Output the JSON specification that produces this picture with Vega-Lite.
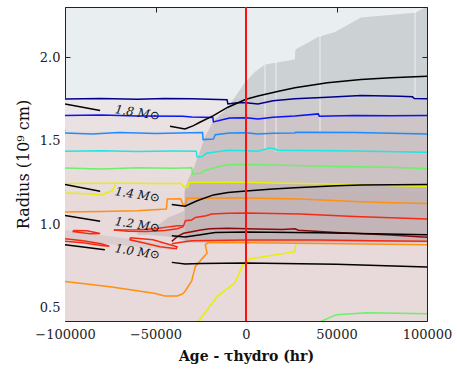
{
"$schema":"https://vega.github.io/schema/vega-lite/v6.json",
"width":362,"height":314,"autosize":"none",
"padding":{"left":65,"top":7,"right":30,"bottom":53},
"config":{"font":"DejaVu Serif","view":{"stroke":"#222","strokeWidth":1,"fill":"#e9eef1"}},
"resolve":{"axis":{"x":"independent","y":"independent"}},
"datasets":{
"bands":[
{"b":"b1","x":-100000,"top":1.752,"bot":1.66},{"b":"b1","x":100000,"top":1.752,"bot":1.66},
{"b":"b2","x":-100000,"top":1.66,"bot":1.56},{"b":"b2","x":100000,"top":1.66,"bot":1.56},
{"b":"b3","x":-100000,"top":1.56,"bot":1.2},{"b":"b3","x":100000,"top":1.56,"bot":1.2},
{"b":"b4","x":-100000,"top":1.2,"bot":0.4},{"b":"b4","x":100000,"top":1.2,"bot":0.4}
],
"areas":[
{"a":"g1","x":-34000,"top":1.2,"bot":0.89},{"a":"g1","x":-32000,"top":1.266,"bot":0.89},{"a":"g1","x":-29300,"top":1.326,"bot":0.89},{"a":"g1","x":-26500,"top":1.404,"bot":0.89},{"a":"g1","x":-22600,"top":1.524,"bot":0.89},{"a":"g1","x":-18200,"top":1.614,"bot":0.89},{"a":"g1","x":-9900,"top":1.7,"bot":0.89},{"a":"g1","x":-550,"top":1.85,"bot":0.89},{"a":"g1","x":5000,"top":1.913,"bot":0.89},{"a":"g1","x":10500,"top":1.955,"bot":0.89},{"a":"g1","x":27000,"top":1.985,"bot":0.89},{"a":"g1","x":27300,"top":2.045,"bot":0.89},{"a":"g1","x":39800,"top":2.12,"bot":0.89},{"a":"g1","x":49200,"top":2.15,"bot":0.89},{"a":"g1","x":63500,"top":2.237,"bot":0.89},{"a":"g1","x":93400,"top":2.266,"bot":0.89},{"a":"g1","x":98900,"top":2.296,"bot":0.89},{"a":"g1","x":100000,"top":2.3,"bot":0.89},
{"a":"g2","x":-33700,"top":1.2,"bot":0.89},{"a":"g2","x":-31500,"top":1.25,"bot":0.89},{"a":"g2","x":0,"top":1.25,"bot":0.89},{"a":"g2","x":50000,"top":1.24,"bot":0.89},{"a":"g2","x":100000,"top":1.226,"bot":0.89},
{"a":"g3","x":-60000,"top":0.96,"bot":0.935},{"a":"g3","x":-53000,"top":0.985,"bot":0.935},{"a":"g3","x":-48000,"top":1.0,"bot":0.93},{"a":"g3","x":-43000,"top":1.04,"bot":0.925},{"a":"g3","x":-38000,"top":1.06,"bot":0.915},{"a":"g3","x":-34000,"top":1.08,"bot":0.9},
{"a":"g4","x":-100000,"top":0.965,"bot":0.905},{"a":"g4","x":-40000,"top":0.875,"bot":0.845}
],
"whites":[{"x":10500,"y":1.446,"y2":1.955},{"x":16600,"y":1.434,"y2":1.97},{"x":40900,"y":1.554,"y2":2.135},{"x":93400,"y":1.757,"y2":2.284}],
"lines":[
{"s":"navy","g":"n1","x":-100000,"y":1.749},{"s":"navy","g":"n1","x":-80000,"y":1.752},{"s":"navy","g":"n1","x":-60000,"y":1.747},{"s":"navy","g":"n1","x":-45000,"y":1.752},{"s":"navy","g":"n1","x":-30000,"y":1.75},{"s":"navy","g":"n1","x":-10500,"y":1.745},{"s":"navy","g":"n1","x":-10000,"y":1.72},{"s":"navy","g":"n1","x":-5000,"y":1.726},{"s":"navy","g":"n1","x":0,"y":1.727},{"s":"navy","g":"n1","x":6600,"y":1.72},{"s":"navy","g":"n1","x":15000,"y":1.738},{"s":"navy","g":"n1","x":27000,"y":1.75},{"s":"navy","g":"n1","x":45000,"y":1.76},{"s":"navy","g":"n1","x":63500,"y":1.77},{"s":"navy","g":"n1","x":85000,"y":1.765},{"s":"navy","g":"n1","x":92000,"y":1.762},{"s":"navy","g":"n1","x":93000,"y":1.752},{"s":"navy","g":"n1","x":100000,"y":1.75},
{"s":"blue","g":"b1","x":-100000,"y":1.65},{"s":"blue","g":"b1","x":-80000,"y":1.653},{"s":"blue","g":"b1","x":-60000,"y":1.648},{"s":"blue","g":"b1","x":-35000,"y":1.646},{"s":"blue","g":"b1","x":-30000,"y":1.641},{"s":"blue","g":"b1","x":-18300,"y":1.638},{"s":"blue","g":"b1","x":-18000,"y":1.612},{"s":"blue","g":"b1","x":-12000,"y":1.628},{"s":"blue","g":"b1","x":-9000,"y":1.636},{"s":"blue","g":"b1","x":0,"y":1.637},{"s":"blue","g":"b1","x":6600,"y":1.63},{"s":"blue","g":"b1","x":15000,"y":1.64},{"s":"blue","g":"b1","x":27000,"y":1.648},{"s":"blue","g":"b1","x":40000,"y":1.66},{"s":"blue","g":"b1","x":40500,"y":1.646},{"s":"blue","g":"b1","x":60000,"y":1.65},{"s":"blue","g":"b1","x":80000,"y":1.649},{"s":"blue","g":"b1","x":100000,"y":1.65},
{"s":"dodger","g":"d1","x":-100000,"y":1.546},{"s":"dodger","g":"d1","x":-85000,"y":1.54},{"s":"dodger","g":"d1","x":-70000,"y":1.548},{"s":"dodger","g":"d1","x":-50000,"y":1.543},{"s":"dodger","g":"d1","x":-24000,"y":1.548},{"s":"dodger","g":"d1","x":-23700,"y":1.506},{"s":"dodger","g":"d1","x":-18000,"y":1.51},{"s":"dodger","g":"d1","x":-17000,"y":1.535},{"s":"dodger","g":"d1","x":-9000,"y":1.545},{"s":"dodger","g":"d1","x":0,"y":1.547},{"s":"dodger","g":"d1","x":6600,"y":1.54},{"s":"dodger","g":"d1","x":15000,"y":1.544},{"s":"dodger","g":"d1","x":27000,"y":1.545},{"s":"dodger","g":"d1","x":27300,"y":1.55},{"s":"dodger","g":"d1","x":60000,"y":1.548},{"s":"dodger","g":"d1","x":100000,"y":1.54},
{"s":"cyan","g":"c1","x":-100000,"y":1.436},{"s":"cyan","g":"c1","x":-80000,"y":1.44},{"s":"cyan","g":"c1","x":-60000,"y":1.435},{"s":"cyan","g":"c1","x":-40000,"y":1.438},{"s":"cyan","g":"c1","x":-27500,"y":1.437},{"s":"cyan","g":"c1","x":-27000,"y":1.402},{"s":"cyan","g":"c1","x":-24000,"y":1.405},{"s":"cyan","g":"c1","x":-22000,"y":1.425},{"s":"cyan","g":"c1","x":-10000,"y":1.442},{"s":"cyan","g":"c1","x":0,"y":1.44},{"s":"cyan","g":"c1","x":6600,"y":1.436},{"s":"cyan","g":"c1","x":13000,"y":1.456},{"s":"cyan","g":"c1","x":16500,"y":1.45},{"s":"cyan","g":"c1","x":17000,"y":1.442},{"s":"cyan","g":"c1","x":50000,"y":1.44},{"s":"cyan","g":"c1","x":100000,"y":1.43},
{"s":"green","g":"gr1","x":-100000,"y":1.336},{"s":"green","g":"gr1","x":-80000,"y":1.33},{"s":"green","g":"gr1","x":-60000,"y":1.338},{"s":"green","g":"gr1","x":-40000,"y":1.335},{"s":"green","g":"gr1","x":-30000,"y":1.338},{"s":"green","g":"gr1","x":-29500,"y":1.3},{"s":"green","g":"gr1","x":-25000,"y":1.305},{"s":"green","g":"gr1","x":-23000,"y":1.32},{"s":"green","g":"gr1","x":-15000,"y":1.345},{"s":"green","g":"gr1","x":-10000,"y":1.355},{"s":"green","g":"gr1","x":0,"y":1.357},{"s":"green","g":"gr1","x":20000,"y":1.353},{"s":"green","g":"gr1","x":50000,"y":1.345},{"s":"green","g":"gr1","x":80000,"y":1.34},{"s":"green","g":"gr1","x":100000,"y":1.332},
{"s":"green","g":"gr2","x":37600,"y":0.4},{"s":"green","g":"gr2","x":50000,"y":0.458},{"s":"green","g":"gr2","x":67000,"y":0.47},{"s":"green","g":"gr2","x":100000,"y":0.464},
{"s":"yellow","g":"y1","x":-100000,"y":1.243},{"s":"yellow","g":"y1","x":-70000,"y":1.245},{"s":"yellow","g":"y1","x":-50000,"y":1.243},{"s":"yellow","g":"y1","x":-36000,"y":1.243},{"s":"yellow","g":"y1","x":-34000,"y":1.22},{"s":"yellow","g":"y1","x":-32000,"y":1.222},{"s":"yellow","g":"y1","x":-31500,"y":1.25},{"s":"yellow","g":"y1","x":-10000,"y":1.252},{"s":"yellow","g":"y1","x":0,"y":1.25},{"s":"yellow","g":"y1","x":20000,"y":1.245},{"s":"yellow","g":"y1","x":50000,"y":1.24},{"s":"yellow","g":"y1","x":100000,"y":1.226},
{"s":"yellow","g":"y2","x":-100000,"y":1.187},{"s":"yellow","g":"y2","x":-85000,"y":1.18},{"s":"yellow","g":"y2","x":-80000,"y":1.173},{"s":"yellow","g":"y2","x":-74000,"y":1.2},{"s":"yellow","g":"y2","x":-72000,"y":1.238},
{"s":"yellow","g":"y3","x":-27500,"y":0.4},{"s":"yellow","g":"y3","x":-16000,"y":0.566},{"s":"yellow","g":"y3","x":-6000,"y":0.65},{"s":"yellow","g":"y3","x":-1700,"y":0.757},{"s":"yellow","g":"y3","x":2200,"y":0.793},{"s":"yellow","g":"y3","x":13300,"y":0.811},{"s":"yellow","g":"y3","x":27000,"y":0.835},{"s":"yellow","g":"y3","x":27600,"y":0.889},
{"s":"orange","g":"o1","x":-100000,"y":1.073},{"s":"orange","g":"o1","x":-80000,"y":1.076},{"s":"orange","g":"o1","x":-60000,"y":1.08},{"s":"orange","g":"o1","x":-44000,"y":1.091},{"s":"orange","g":"o1","x":-43500,"y":1.15},{"s":"orange","g":"o1","x":-36000,"y":1.152},{"s":"orange","g":"o1","x":-35000,"y":1.12},{"s":"orange","g":"o1","x":-33500,"y":1.118},{"s":"orange","g":"o1","x":-32500,"y":1.155},{"s":"orange","g":"o1","x":-10000,"y":1.157},{"s":"orange","g":"o1","x":0,"y":1.157},{"s":"orange","g":"o1","x":30000,"y":1.15},{"s":"orange","g":"o1","x":60000,"y":1.135},{"s":"orange","g":"o1","x":80000,"y":1.128},{"s":"orange","g":"o1","x":100000,"y":1.123},
{"s":"orange","g":"o2","x":-100000,"y":0.657},{"s":"orange","g":"o2","x":-75000,"y":0.625},{"s":"orange","g":"o2","x":-50000,"y":0.585},{"s":"orange","g":"o2","x":-45000,"y":0.57},{"s":"orange","g":"o2","x":-38000,"y":0.57},{"s":"orange","g":"o2","x":-35000,"y":0.582},{"s":"orange","g":"o2","x":-33700,"y":0.598},{"s":"orange","g":"o2","x":-30000,"y":0.66},{"s":"orange","g":"o2","x":-28000,"y":0.747},{"s":"orange","g":"o2","x":-21500,"y":0.827},{"s":"orange","g":"o2","x":-22500,"y":0.877},{"s":"orange","g":"o2","x":-21000,"y":0.888},{"s":"orange","g":"o2","x":0,"y":0.889},{"s":"orange","g":"o2","x":40000,"y":0.884},{"s":"orange","g":"o2","x":80000,"y":0.879},{"s":"orange","g":"o2","x":100000,"y":0.876},
{"s":"red","g":"r1","x":-73000,"y":0.965},{"s":"red","g":"r1","x":-60000,"y":0.967},{"s":"red","g":"r1","x":-50000,"y":0.972},{"s":"red","g":"r1","x":-42000,"y":0.985},{"s":"red","g":"r1","x":-38000,"y":0.99},{"s":"red","g":"r1","x":-34500,"y":0.99},{"s":"red","g":"r1","x":-33500,"y":1.02},{"s":"red","g":"r1","x":-30000,"y":1.025},{"s":"red","g":"r1","x":-28000,"y":1.04},{"s":"red","g":"r1","x":-22000,"y":1.05},{"s":"red","g":"r1","x":-19000,"y":1.06},{"s":"red","g":"r1","x":-10000,"y":1.065},{"s":"red","g":"r1","x":0,"y":1.067},{"s":"red","g":"r1","x":30000,"y":1.06},{"s":"red","g":"r1","x":60000,"y":1.045},{"s":"red","g":"r1","x":80000,"y":1.038},{"s":"red","g":"r1","x":100000,"y":1.03},
{"s":"red","g":"r2","x":-73000,"y":0.965},{"s":"red","g":"r2","x":-65000,"y":0.958},{"s":"red","g":"r2","x":-55000,"y":0.956},{"s":"red","g":"r2","x":-45000,"y":0.962},{"s":"red","g":"r2","x":-38000,"y":0.972},{"s":"red","g":"r2","x":-34500,"y":0.985},
{"s":"red","g":"r3","x":-95500,"y":0.962},{"s":"red","g":"r3","x":-88000,"y":0.96},{"s":"red","g":"r3","x":-80600,"y":0.944},{"s":"red","g":"r3","x":-86000,"y":0.942},{"s":"red","g":"r3","x":-95500,"y":0.955},{"s":"red","g":"r3","x":-95500,"y":0.962},
{"s":"red","g":"r4","x":-100000,"y":0.912},{"s":"red","g":"r4","x":-90000,"y":0.9},{"s":"red","g":"r4","x":-80000,"y":0.882},{"s":"red","g":"r4","x":-75500,"y":0.868},{"s":"red","g":"r4","x":-80000,"y":0.872},{"s":"red","g":"r4","x":-90000,"y":0.888},{"s":"red","g":"r4","x":-100000,"y":0.897},
{"s":"red","g":"r5","x":-64000,"y":0.919},{"s":"red","g":"r5","x":-51400,"y":0.907},{"s":"red","g":"r5","x":-38100,"y":0.865},{"s":"red","g":"r5","x":-38500,"y":0.853},{"s":"red","g":"r5","x":-47500,"y":0.865},{"s":"red","g":"r5","x":-58000,"y":0.892},{"s":"red","g":"r5","x":-64000,"y":0.906},{"s":"red","g":"r5","x":-64000,"y":0.919},
{"s":"red","g":"r6","x":-41000,"y":0.882},{"s":"red","g":"r6","x":-35000,"y":0.893},{"s":"red","g":"r6","x":-30000,"y":0.9},{"s":"red","g":"r6","x":0,"y":0.905},{"s":"red","g":"r6","x":40000,"y":0.905},{"s":"red","g":"r6","x":70000,"y":0.9},{"s":"red","g":"r6","x":100000,"y":0.897},
{"s":"darkred","g":"dr","x":-41000,"y":0.897},{"s":"darkred","g":"dr","x":-38000,"y":0.925},{"s":"darkred","g":"dr","x":-34500,"y":0.945},{"s":"darkred","g":"dr","x":-30000,"y":0.955},{"s":"darkred","g":"dr","x":-25000,"y":0.965},{"s":"darkred","g":"dr","x":-20000,"y":0.972},{"s":"darkred","g":"dr","x":-10000,"y":0.975},{"s":"darkred","g":"dr","x":0,"y":0.972},{"s":"darkred","g":"dr","x":20000,"y":0.968},{"s":"darkred","g":"dr","x":27000,"y":0.972},{"s":"darkred","g":"dr","x":29000,"y":0.963},{"s":"darkred","g":"dr","x":50000,"y":0.95},{"s":"darkred","g":"dr","x":80000,"y":0.935},{"s":"darkred","g":"dr","x":100000,"y":0.922},
{"s":"black","g":"k1a","x":-100000,"y":1.72},{"s":"black","g":"k1a","x":-80600,"y":1.68},
{"s":"black","g":"k1b","x":-42000,"y":1.586},{"s":"black","g":"k1b","x":-33700,"y":1.57},{"s":"black","g":"k1b","x":-29000,"y":1.59},{"s":"black","g":"k1b","x":-25500,"y":1.61},{"s":"black","g":"k1b","x":-18000,"y":1.65},{"s":"black","g":"k1b","x":-10000,"y":1.7},{"s":"black","g":"k1b","x":0,"y":1.748},{"s":"black","g":"k1b","x":6600,"y":1.767},{"s":"black","g":"k1b","x":18000,"y":1.795},{"s":"black","g":"k1b","x":27000,"y":1.816},{"s":"black","g":"k1b","x":45000,"y":1.846},{"s":"black","g":"k1b","x":63500,"y":1.866},{"s":"black","g":"k1b","x":80000,"y":1.877},{"s":"black","g":"k1b","x":100000,"y":1.885},
{"s":"black","g":"k2a","x":-100000,"y":1.237},{"s":"black","g":"k2a","x":-80600,"y":1.197},
{"s":"black","g":"k2b","x":-41000,"y":1.117},{"s":"black","g":"k2b","x":-33700,"y":1.107},{"s":"black","g":"k2b","x":-27000,"y":1.14},{"s":"black","g":"k2b","x":-18000,"y":1.175},{"s":"black","g":"k2b","x":-10000,"y":1.19},{"s":"black","g":"k2b","x":0,"y":1.198},{"s":"black","g":"k2b","x":15000,"y":1.21},{"s":"black","g":"k2b","x":27000,"y":1.218},{"s":"black","g":"k2b","x":50000,"y":1.23},{"s":"black","g":"k2b","x":63500,"y":1.235},{"s":"black","g":"k2b","x":100000,"y":1.238},
{"s":"black","g":"k3a","x":-100000,"y":1.051},{"s":"black","g":"k3a","x":-80600,"y":1.017},
{"s":"black","g":"k3b","x":-41000,"y":0.931},{"s":"black","g":"k3b","x":-33700,"y":0.923},{"s":"black","g":"k3b","x":-26000,"y":0.935},{"s":"black","g":"k3b","x":-17000,"y":0.95},{"s":"black","g":"k3b","x":0,"y":0.953},{"s":"black","g":"k3b","x":40000,"y":0.948},{"s":"black","g":"k3b","x":70000,"y":0.943},{"s":"black","g":"k3b","x":100000,"y":0.937},
{"s":"black","g":"k4a","x":-100000,"y":0.877},{"s":"black","g":"k4a","x":-78000,"y":0.847},
{"s":"black","g":"k4b","x":-41000,"y":0.771},{"s":"black","g":"k4b","x":-33700,"y":0.762},{"s":"black","g":"k4b","x":-25000,"y":0.765},{"s":"black","g":"k4b","x":0,"y":0.768},{"s":"black","g":"k4b","x":50000,"y":0.76},{"s":"black","g":"k4b","x":100000,"y":0.744}
],
"labels":[{"x":-60000,"y":1.668,"t":"1.8 M⊙"},{"x":-60000,"y":1.177,"t":"1.4 M⊙"},{"x":-60000,"y":0.997,"t":"1.2 M⊙"},{"x":-60000,"y":0.835,"t":"1.0 M⊙"}],
"vline":[{"x":0}]
},
"layer":[
{"data":{"name":"bands"},"mark":{"type":"area","clip":true},
"encoding":{
"x":{"field":"x","type":"quantitative","scale":{"domain":[-100000,100000],"nice":false},
"axis":{"orient":"bottom","values":[-100000,-50000,0,50000,100000],"format":"d","title":"Age - τhydro (hr)","titleFontWeight":"bold","titleFontSize":14,"titleColor":"#111","titlePadding":8,"labelFontSize":13,"labelColor":"#222","labelFont":"DejaVu Serif","titleFont":"DejaVu Serif","tickSize":-5,"tickColor":"#222","labelPadding":12,"domain":false,"grid":false,"labelFlush":false}},
"y":{"field":"top","type":"quantitative","stack":null,"scale":{"domain":[0.42,2.3],"nice":false,"zero":false},
"axis":{"orient":"left","values":[0.5,1.0,1.5,2.0],"format":".1f","title":"Radius (10⁹ cm)","titleFontWeight":"normal","titleFontSize":16,"titleColor":"#111","titlePadding":8,"labelFontSize":13,"labelColor":"#222","labelFont":"DejaVu Serif","titleFont":"DejaVu Serif","tickSize":-5,"tickColor":"#222","labelPadding":10,"domain":false,"grid":false}},
"y2":{"field":"bot"},
"fill":{"field":"b","type":"nominal","scale":{"domain":["b1","b2","b3","b4"],"range":["#ebe7e9","#eae1e2","#e9dcdd","#e8d9da"]},"legend":null}}},
{"data":{"name":"areas"},"transform":[{"filter":"datum.a==='g1'"}],"mark":{"type":"area","color":"#10121a","opacity":0.13,"clip":true},
"encoding":{
"x":{"field":"x","type":"quantitative","scale":{"domain":[-100000,100000],"nice":false},"axis":{"orient":"top","values":[-100000,-50000,0,50000,100000],"labels":false,"title":null,"tickSize":-5,"tickColor":"#222","domain":false,"grid":false}},
"y":{"field":"top","type":"quantitative","stack":null,"scale":{"domain":[0.42,2.3],"nice":false,"zero":false},"axis":{"orient":"right","values":[0.5,1.0,1.5,2.0],"labels":false,"title":null,"tickSize":-5,"tickColor":"#222","domain":false,"grid":false}},
"y2":{"field":"bot"}}},
{"data":{"name":"areas"},"transform":[{"filter":"datum.a==='g2'"}],"mark":{"type":"area","color":"#301830","opacity":0.06,"clip":true},
"encoding":{"x":{"field":"x","type":"quantitative","scale":{"domain":[-100000,100000],"nice":false},"axis":null},
"y":{"field":"top","type":"quantitative","stack":null,"scale":{"domain":[0.42,2.3],"nice":false,"zero":false},"axis":null},"y2":{"field":"bot"}}},
{"data":{"name":"areas"},"transform":[{"filter":"datum.a==='g3'"}],"mark":{"type":"area","color":"#101018","opacity":0.1,"clip":true},
"encoding":{"x":{"field":"x","type":"quantitative","scale":{"domain":[-100000,100000],"nice":false},"axis":null},
"y":{"field":"top","type":"quantitative","stack":null,"scale":{"domain":[0.42,2.3],"nice":false,"zero":false},"axis":null},"y2":{"field":"bot"}}},
{"data":{"name":"areas"},"transform":[{"filter":"datum.a==='g4'"}],"mark":{"type":"area","color":"#101018","opacity":0.06,"clip":true},
"encoding":{"x":{"field":"x","type":"quantitative","scale":{"domain":[-100000,100000],"nice":false},"axis":null},
"y":{"field":"top","type":"quantitative","stack":null,"scale":{"domain":[0.42,2.3],"nice":false,"zero":false},"axis":null},"y2":{"field":"bot"}}},
{"data":{"name":"whites"},"mark":{"type":"rule","color":"#ffffff","opacity":0.45,"strokeWidth":1.5},
"encoding":{"x":{"field":"x","type":"quantitative","scale":{"domain":[-100000,100000],"nice":false},"axis":null},
"y":{"field":"y","type":"quantitative","scale":{"domain":[0.42,2.3],"nice":false,"zero":false},"axis":null},"y2":{"field":"y2"}}},
{"data":{"name":"lines"},"mark":{"type":"line","strokeWidth":1.5,"clip":true},
"encoding":{"x":{"field":"x","type":"quantitative","scale":{"domain":[-100000,100000],"nice":false},"axis":null},
"y":{"field":"y","type":"quantitative","scale":{"domain":[0.42,2.3],"nice":false,"zero":false},"axis":null},
"color":{"field":"s","type":"nominal","scale":{"domain":["navy","blue","dodger","cyan","green","yellow","orange","red","darkred","black"],"range":["#00008c","#0a14f5","#1e8cff","#1ee6e0","#6cf06a","#e8f000","#ff9010","#f52a14","#8c0a0a","#000000"]},"legend":null},
"detail":{"field":"g","type":"nominal"},
"order":{"value":null}}},
{"data":{"name":"labels"},"mark":{"type":"text","font":"DejaVu Serif","fontStyle":"italic","fontSize":12,"angle":9,"color":"#111","align":"center","baseline":"middle"},
"encoding":{"x":{"field":"x","type":"quantitative","scale":{"domain":[-100000,100000],"nice":false},"axis":null},
"y":{"field":"y","type":"quantitative","scale":{"domain":[0.42,2.3],"nice":false,"zero":false},"axis":null},
"text":{"field":"t"}}},
{"data":{"name":"vline"},"mark":{"type":"rule","color":"#ff1010","strokeWidth":2},
"encoding":{"x":{"field":"x","type":"quantitative","scale":{"domain":[-100000,100000],"nice":false},"axis":null}}}
]
}
